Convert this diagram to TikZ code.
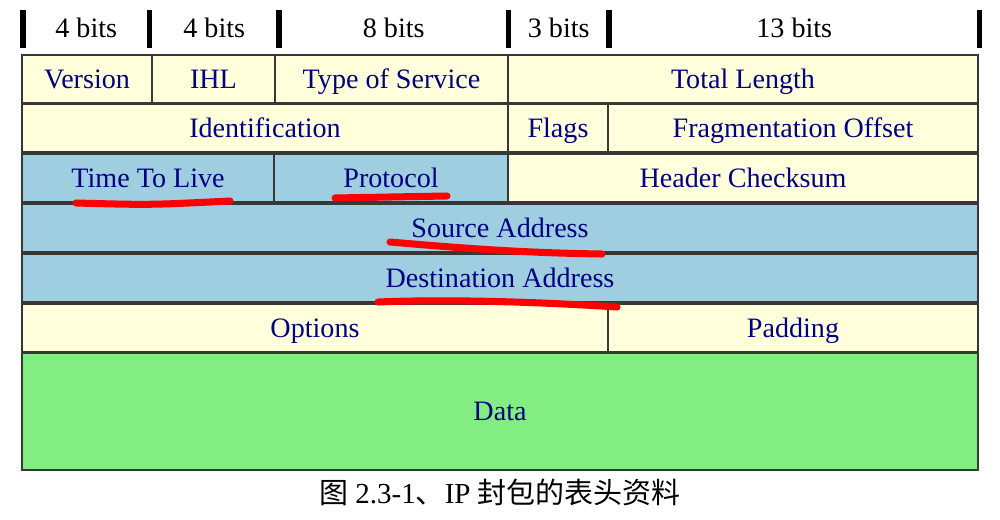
\documentclass[tikz,border=0pt]{standalone}
\usepackage{fontspec}
\setmainfont{Liberation Serif}
\newfontfamily\cjk{Noto Sans CJK SC}
\usepackage{xcolor}
\usetikzlibrary{calc}

\definecolor{cellyellow}{HTML}{FFFFDC}
\definecolor{cellblue}{HTML}{9ECEE0}
\definecolor{cellgreen}{HTML}{82EE82}
\definecolor{cellborder}{HTML}{383838}
\definecolor{labelblue}{HTML}{000080}

\begin{document}
\begin{tikzpicture}[
        x=0.02cm, y=-0.02cm,
        cell/.style={draw=cellborder, line width=1.2pt, text=labelblue,
            inner sep=0pt, minimum height=0.96cm,
            text height=12pt, text depth=1.4pt,
            font=\fontsize{16}{19}\selectfont},
        bits/.style={inner sep=0pt, text height=12pt, text depth=1.4pt,
            font=\fontsize{16}{19}\selectfont},
        bar/.style={fill=black, inner sep=0pt,
            minimum width=0.11cm, minimum height=0.76cm},
        redline/.style={red, line width=4pt, line cap=round}]

        \useasboundingbox (0,0) rectangle (1000,520);

        % HEADER
        % bars
        \foreach \x [count=\i] in {23,149.5,279,508.5,609,979.5}
            \node[bar] (bar\i) at (\x,29) {};
        % bit counts
        \node[bits] (b1) at ($(bar1)!0.5!(bar2)+(0,-1)$) {4 bits};
        \node[bits] (b2) at ($(bar2)!0.5!(bar3)+(0,-1)$) {4 bits};
        \node[bits] (b3) at ($(bar3)!0.5!(bar4)+(0,-1)$) {8 bits};
        \node[bits] (b4) at ($(bar4)!0.5!(bar5)+(0,-1)$) {3 bits};
        \node[bits] (b5) at ($(bar5)!0.5!(bar6)+(0,-1)$) {13 bits};

        % NODES
        % row 1
        \node[cell, fill=cellyellow, minimum width=2.6cm] (ver) at (87,79) {Version};
        \node[cell, fill=cellyellow, minimum width=2.46cm] (ihl) at (213.5,79) {IHL};
        \node[cell, fill=cellyellow, minimum width=4.66cm] (tos) at (391.5,79) {Type of Service};
        \node[cell, fill=cellyellow, minimum width=9.4cm] (tlen) at (743,79) {Total Length};
        % row 2
        \node[cell, fill=cellyellow, minimum width=9.72cm] (ident) at (265,128) {Identification};
        \node[cell, fill=cellyellow, minimum width=2cm] (flags) at (558,128) {Flags};
        \node[cell, fill=cellyellow, minimum width=7.4cm] (frag) at (793,128) {Fragmentation Offset};
        % row 3
        \node[cell, fill=cellblue, minimum width=5.04cm] (ttl) at (148,178) {Time To Live};
        \node[cell, fill=cellblue, minimum width=4.68cm] (proto) at (391,178) {Protocol};
        \node[cell, fill=cellyellow, minimum width=9.4cm] (hcs) at (743,178) {Header Checksum};
        % row 4, 5
        \node[cell, fill=cellblue, minimum width=19.12cm] (src) at (500,228) {Source Address};
        \node[cell, fill=cellblue, minimum width=19.12cm] (dst) at (500,278) {Destination Address};
        % row 6
        \node[cell, fill=cellyellow, minimum width=11.72cm] (opt) at (315,328) {Options};
        \node[cell, fill=cellyellow, minimum width=7.4cm] (pad) at (793,328) {Padding};
        % data
        \node[cell, fill=cellgreen, minimum width=19.12cm, minimum height=2.34cm] (data) at (500,411.5) {Data};

        % CAPTION
        \node[bits, font=\fontsize{16.5}{19}\selectfont] (caption) at (500,494)
            {{\cjk 图} 2.3-1{\cjk 、}IP {\cjk 封包的表头资料}};

        % RED MARKS
        \draw[redline] (76,203) .. controls (150,205) .. (230,201);
        \draw[redline] (335,198) .. controls (390,197) .. (447,196);
        \draw[redline] (390,242) .. controls (470,249) and (530,253) .. (602,254);
        \draw[redline] (378,302) .. controls (450,299) and (540,302) .. (617,307);
\end{tikzpicture}
\end{document}
